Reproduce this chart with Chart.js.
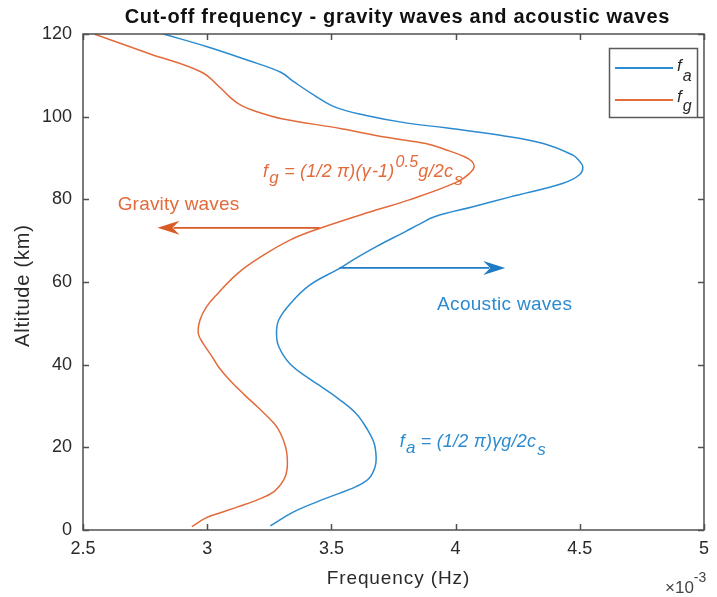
<!DOCTYPE html>
<html>
<head>
<meta charset="utf-8">
<script src="https://cdn.jsdelivr.net/npm/chart.js@4.4.1/dist/chart.umd.min.js"></script>
<style>
  html, body { margin: 0; padding: 0; background: #ffffff; }
  #wrap { width: 717px; height: 597px; }
</style>
</head>
<body>
<div id="wrap"><canvas id="c" width="717" height="597"></canvas></div>
<script>
// Altitude (km) and cut-off frequency (units of 1e-3 Hz) for the acoustic cut-off f_a
const altitudeFa = [1.0, 4.4, 7.7, 10.5, 12.5, 15.3, 17.7, 21.0, 24.2, 28.2, 31.9, 34.7, 36.3, 40.3, 44.4, 47.6, 50.8, 54.8,
  59.3, 63.3, 65.3, 68.5, 72.2, 74.0, 75.8, 78.2, 80.6, 83.9, 86.0, 87.9, 89.5, 90.7, 93.5, 95.5, 97.3, 98.5, 100.3, 102.3,
  105.2, 108.4, 110.8, 113.7, 116.9, 120];
const freqFa = [3.254, 3.348, 3.480, 3.599, 3.652, 3.676, 3.680, 3.672, 3.646, 3.599, 3.525, 3.459, 3.418, 3.332, 3.288, 3.279, 3.288, 3.335,
  3.414, 3.533, 3.586, 3.679, 3.798, 3.855, 3.915, 4.07, 4.221, 4.433, 4.50, 4.512, 4.495, 4.472, 4.353, 4.18, 3.96, 3.80, 3.64, 3.515,
  3.43, 3.35, 3.294, 3.16, 3.00, 2.824];

// Altitude (km) and cut-off frequency (units of 1e-3 Hz) for the gravity-wave cut-off f_g
const altitudeFg = [0.8, 2.8, 4.0, 5.6, 7.3, 9.3, 12.1, 14.5, 17.7, 20.2, 23.4, 25.8, 29.8, 32.7, 36.3, 39.5, 41.9, 45.2, 47.6,
  50.8, 54.0, 57.3, 62.1, 66.1, 70.2, 73.0, 77.4, 79.8, 84.3, 86.5, 87.9, 89.2, 90.3, 92.0, 93.5, 95.0, 97.1, 99.5, 101.0,
  102.8, 104.8, 106.8, 110.8, 115.3, 120];
const freqFg = [2.938, 2.991, 3.044, 3.123, 3.202, 3.269, 3.308, 3.321, 3.322, 3.315, 3.295, 3.269, 3.202, 3.15, 3.09, 3.045, 3.020, 2.983, 2.964,
  2.971, 2.997, 3.044, 3.123, 3.216, 3.335, 3.454, 3.679, 3.81, 4.009, 4.06, 4.075, 4.065, 4.036, 3.96, 3.88, 3.72, 3.54, 3.30, 3.21,
  3.135, 3.09, 3.056, 2.976, 2.765, 2.545];

// Axis ticks
const freqTicks = [2.5, 3, 3.5, 4, 4.5, 5];
const altitudeTicks = [0, 20, 40, 60, 80, 100, 120];

// Arrows marking the propagation regions: [frequency, altitude] start and end
const gravityArrow = { from: [3.452, 73.1], to: [2.80, 73.1] };
const acousticArrow = { from: [3.532, 63.4], to: [4.20, 63.4] };

const BLUE = '#2b8bd0';
const ORANGE = '#e36a3a';
const BLUE_DARK = '#1f7cc4';
const ORANGE_DARK = '#d95a24';
const AXIS = '#505050';
const TEXT = '#2a2a2a';
const FAMILY = '"Liberation Sans", Arial, Helvetica, sans-serif';

function toPoints(xs, ys) {
  return xs.map((x, i) => ({ x: x, y: ys[i] }));
}

// Draws a run of text pieces (for sub/superscripts) starting at x, baseline y
function drawRich(ctx, x, y, parts, color, spacing) {
  ctx.save();
  ctx.fillStyle = color;
  ctx.textBaseline = 'alphabetic';
  ctx.textAlign = 'left';
  ctx.letterSpacing = (spacing || 0) + 'px';
  let cx = x;
  parts.forEach(p => {
    ctx.font = (p.italic === false ? '' : 'italic ') + p.size + 'px ' + FAMILY;
    ctx.fillText(p.t, cx, y + (p.dy || 0));
    cx += ctx.measureText(p.t).width + (p.gap || 0);
  });
  ctx.restore();
}

function drawArrow(ctx, x1, y1, x2, y2, color, headLen, headHalf) {
  const ang = Math.atan2(y2 - y1, x2 - x1);
  const cos = Math.cos(ang), sin = Math.sin(ang);
  const bx = x2 - headLen * cos, by = y2 - headLen * sin;
  ctx.save();
  ctx.strokeStyle = color;
  ctx.fillStyle = color;
  ctx.lineWidth = 1.8;
  ctx.beginPath();
  ctx.moveTo(x1, y1);
  ctx.lineTo(bx + 4 * cos, by + 4 * sin);
  ctx.stroke();
  // notched arrow head
  ctx.beginPath();
  ctx.moveTo(x2, y2);
  ctx.lineTo(bx - headHalf * sin - 2 * cos, by + headHalf * cos - 2 * sin);
  ctx.lineTo(bx + 5 * cos, by + 5 * sin);
  ctx.lineTo(bx + headHalf * sin - 2 * cos, by - headHalf * cos - 2 * sin);
  ctx.closePath();
  ctx.fill();
  ctx.restore();
}

function spacedText(ctx, text, x, y, spacing) {
  ctx.letterSpacing = spacing + 'px';
  ctx.fillText(text, x + spacing / 2, y);
  ctx.letterSpacing = '0px';
}

const decorations = {
  id: 'decorations',
  afterDatasetsDraw(chart) {
    const ctx = chart.ctx;
    const a = chart.chartArea;
    const xs = chart.scales.x, ys = chart.scales.y;

    // box with inward ticks on all four sides
    ctx.save();
    ctx.strokeStyle = AXIS;
    ctx.lineWidth = 1.5;
    ctx.strokeRect(a.left, a.top, a.right - a.left, a.bottom - a.top);
    ctx.beginPath();
    const tl = 6;
    xs.ticks.forEach(t => {
      const px = Math.round(xs.getPixelForValue(t.value)) + 0.5;
      ctx.moveTo(px, a.bottom); ctx.lineTo(px, a.bottom - tl);
      ctx.moveTo(px, a.top); ctx.lineTo(px, a.top + tl);
    });
    ys.ticks.forEach(t => {
      const py = Math.round(ys.getPixelForValue(t.value)) + 0.5;
      ctx.moveTo(a.left, py); ctx.lineTo(a.left + tl, py);
      ctx.moveTo(a.right, py); ctx.lineTo(a.right - tl, py);
    });
    ctx.stroke();
    ctx.restore();

    // region arrows
    drawArrow(ctx, xs.getPixelForValue(gravityArrow.from[0]), ys.getPixelForValue(gravityArrow.from[1]),
      xs.getPixelForValue(gravityArrow.to[0]), ys.getPixelForValue(gravityArrow.to[1]), ORANGE_DARK, 20, 7);
    drawArrow(ctx, xs.getPixelForValue(acousticArrow.from[0]), ys.getPixelForValue(acousticArrow.from[1]),
      xs.getPixelForValue(acousticArrow.to[0]), ys.getPixelForValue(acousticArrow.to[1]), BLUE_DARK, 20, 7);

    // region labels
    ctx.save();
    ctx.font = '19px ' + FAMILY;
    ctx.textBaseline = 'middle';
    ctx.textAlign = 'left';
    ctx.fillStyle = ORANGE;
    spacedText(ctx, 'Gravity waves', xs.getPixelForValue(2.639), ys.getPixelForValue(78.6), 0.2);
    ctx.fillStyle = BLUE;
    spacedText(ctx, 'Acoustic waves', xs.getPixelForValue(3.925), ys.getPixelForValue(54.4), 0.3);
    ctx.restore();

    // formulas
    drawRich(ctx, xs.getPixelForValue(3.225), ys.getPixelForValue(85.4), [
      { t: 'f', size: 18, gap: 1 },
      { t: 'g', size: 17, dy: 6 },
      { t: ' = (1/2 ', size: 18 },
      { t: 'π', size: 18 },
      { t: ')(', size: 18 },
      { t: 'γ', size: 18, gap: 1 },
      { t: '-1)', size: 18, gap: 1 },
      { t: '0.5', size: 16, dy: -10 },
      { t: 'g/2c', size: 18, gap: 1 },
      { t: 's', size: 17, dy: 8 }
    ], ORANGE, 0.2);

    drawRich(ctx, xs.getPixelForValue(3.775), ys.getPixelForValue(20.1), [
      { t: 'f', size: 18, gap: 1 },
      { t: 'a', size: 17, dy: 6 },
      { t: ' = (1/2 ', size: 18 },
      { t: 'π', size: 18 },
      { t: ')', size: 18 },
      { t: 'γ', size: 18 },
      { t: 'g/2c', size: 18, gap: 1 },
      { t: 's', size: 17, dy: 8 }
    ], BLUE, 0.2);
  },
  afterDraw(chart) {
    const ctx = chart.ctx;
    // title
    ctx.save();
    ctx.fillStyle = '#111111';
    ctx.font = 'bold 20px ' + FAMILY;
    ctx.textAlign = 'center';
    ctx.textBaseline = 'middle';
    spacedText(ctx, 'Cut-off frequency - gravity waves and acoustic waves', 397, 17, 0.7);

    // axis titles
    ctx.fillStyle = TEXT;
    ctx.font = '19px ' + FAMILY;
    spacedText(ctx, 'Frequency (Hz)', 398, 579, 0.9);
    ctx.save();
    ctx.translate(23, 286);
    ctx.rotate(-Math.PI / 2);
    ctx.font = '20px ' + FAMILY;
    spacedText(ctx, 'Altitude (km)', 0, 0, 0.8);
    ctx.restore();

    // exponent of the frequency axis
    ctx.textAlign = 'left';
    ctx.textBaseline = 'alphabetic';
    ctx.font = '17px ' + FAMILY;
    ctx.fillStyle = '#444444';
    ctx.fillText('×10', 665, 593);
    const w = ctx.measureText('×10').width;
    ctx.font = '14px ' + FAMILY;
    ctx.fillText('-3', 665 + w, 582);
    ctx.restore();

    // legend
    ctx.save();
    ctx.fillStyle = '#ffffff';
    ctx.fillRect(609, 48, 89, 70);
    ctx.strokeStyle = '#5a5a5a';
    ctx.lineWidth = 1.5;
    ctx.strokeRect(609.5, 48.5, 88, 69);
    ctx.lineWidth = 1.8;
    chart.data.datasets.forEach((ds, i) => {
      const ly = 68 + i * 32;
      ctx.strokeStyle = ds.borderColor;
      ctx.beginPath();
      ctx.moveTo(615, ly);
      ctx.lineTo(673, ly);
      ctx.stroke();
    });
    ctx.restore();
    drawRich(ctx, 677, 71, [{ t: 'f', size: 17, gap: 1 }, { t: 'a', size: 16, dy: 10 }], TEXT);
    drawRich(ctx, 677, 102, [{ t: 'f', size: 17, gap: 1 }, { t: 'g', size: 16, dy: 9 }], TEXT);
  }
};

new Chart(document.getElementById('c'), {
  type: 'scatter',
  data: {
    datasets: [
      {
        label: 'f_a',
        data: toPoints(freqFa, altitudeFa),
        showLine: true,
        borderColor: BLUE,
        borderWidth: 1.5,
        pointRadius: 0,
        tension: 0.4,
        fill: false
      },
      {
        label: 'f_g',
        data: toPoints(freqFg, altitudeFg),
        showLine: true,
        borderColor: ORANGE,
        borderWidth: 1.5,
        pointRadius: 0,
        tension: 0.4,
        fill: false
      }
    ]
  },
  options: {
    responsive: false,
    animation: false,
    devicePixelRatio: 1,
    layout: { padding: { left: 0, right: 4, top: 34, bottom: 0 } },
    plugins: {
      legend: { display: false },
      title: { display: false },
      tooltip: { enabled: false }
    },
    scales: {
      x: {
        type: 'linear',
        min: 2.5,
        max: 5,
        afterBuildTicks: s => { s.ticks = freqTicks.map(v => ({ value: v })); },
        afterFit: s => { s.height = 67; },
        grid: { display: false, drawTicks: false },
        border: { display: false },
        ticks: {
          padding: 8,
          color: TEXT,
          font: { family: FAMILY, size: 18 },
          callback: v => String(v),
          maxRotation: 0,
          autoSkip: false
        }
      },
      y: {
        type: 'linear',
        min: 0,
        max: 120,
        afterBuildTicks: s => { s.ticks = altitudeTicks.map(v => ({ value: v })); },
        afterFit: s => { s.width = 83; },
        grid: { display: false, drawTicks: false },
        border: { display: false },
        ticks: {
          padding: 11,
          color: TEXT,
          font: { family: FAMILY, size: 18 },
          callback: v => String(v),
          autoSkip: false
        }
      }
    }
  },
  plugins: [decorations]
});
</script>
</body>
</html>
